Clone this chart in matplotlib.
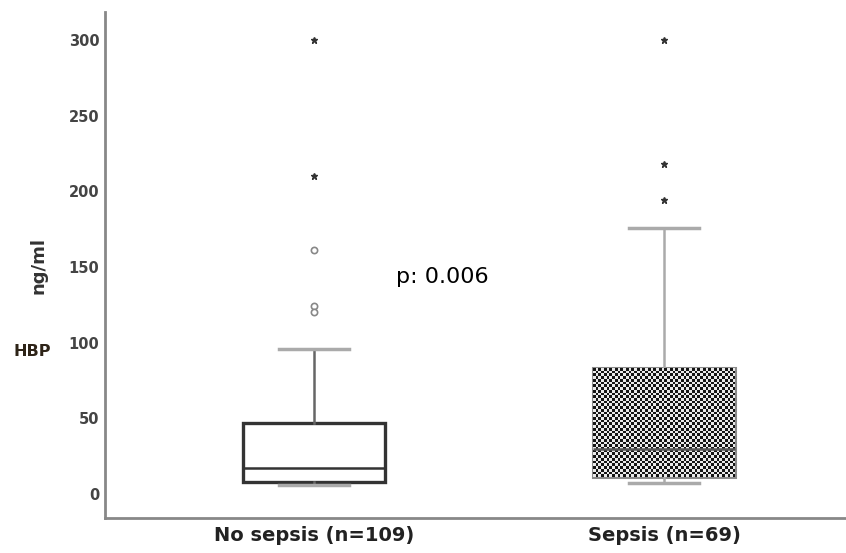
import matplotlib.pyplot as plt
import numpy as np

groups = ["No sepsis (n=109)", "Sepsis (n=69)"]
q1 = [8, 11]
med = [17, 30]
q3 = [47, 83]
whislo = [6, 7]
whishi = [96, 176]
extremes = [[300, 210], [300, 218, 194]]
outliers = [[161, 124, 120], []]
yticks = [0, 50, 100, 150, 200, 250, 300]

plt.rcParams["font.family"] = ["DejaVu Sans"]


def main():
    fig = plt.figure(figsize=(8.46, 5.53), dpi=100)
    ax = fig.add_axes([105 / 846, 35 / 553, 741 / 846, 506 / 553])

    stats = []
    for i, name in enumerate(groups):
        stats.append(dict(label=name, q1=q1[i], med=med[i], q3=q3[i],
                          whislo=whislo[i], whishi=whishi[i], fliers=[]))
    pos = [1, 2]
    w = 0.406
    bp = ax.bxp(stats, positions=pos, widths=w, patch_artist=True,
                showfliers=False, capwidths=0.2,
                boxprops=dict(linewidth=2.4, edgecolor="#333333", facecolor="white"),
                medianprops=dict(color="#333333", linewidth=1.8),
                whiskerprops=dict(color="#666666", linewidth=1.8),
                capprops=dict(color="#aaaaaa", linewidth=2.5))

    # sepsis box: checker fill clipped to the box
    box = bp["boxes"][1]
    box.set_facecolor("#333333")
    box.set_edgecolor("#8a8a8a")
    box.set_linewidth(2.2)
    ii, jj = np.indices((40, 52))
    tile = ((ii + jj) % 2).astype(float)
    img = ax.imshow(tile, cmap="gray", vmin=-0.1, vmax=1.1,
                    extent=[pos[1] - w / 2, pos[1] + w / 2, q1[1], q3[1]],
                    aspect="auto", interpolation="nearest", zorder=2.5)
    img.set_clip_path(box)
    bp["medians"][1].set_color("#555555")
    bp["medians"][1].set_zorder(3)
    bp["whiskers"][2].set_color("#aaaaaa")
    bp["whiskers"][3].set_color("#aaaaaa")

    for i, p in enumerate(pos):
        ax.plot([p] * len(extremes[i]), extremes[i], ls="none", marker="*",
                ms=4.5, color="#333333")
        if outliers[i]:
            ax.plot([p] * len(outliers[i]), outliers[i], ls="none", marker="o",
                    ms=4.5, mfc="white", mec="#888888", mew=1.2)

    ax.set_xlim(0.403, 2.52)
    ax.set_ylim(-15.9, 318.6)
    ax.set_yticks(yticks)
    ax.set_yticklabels([str(t) for t in yticks], fontsize=10.5, fontweight="bold",
                       color="#444444")
    ax.set_xticks(pos)
    ax.set_xticklabels(groups, fontsize=14, fontweight="bold", color="#222222")
    ax.tick_params(axis="y", length=0, pad=4)
    ax.tick_params(axis="x", length=0, pad=6)

    for s in ["top", "right"]:
        ax.spines[s].set_visible(False)
    for s in ["left", "bottom"]:
        ax.spines[s].set_color("#888888")
        ax.spines[s].set_linewidth(2)

    ax.text(1.233, 139.5, "p: 0.006", fontsize=16, color="black", va="baseline")
    fig.text(38 / 846, 1 - 265 / 553, "ng/ml", rotation=90, fontsize=13,
             fontweight="bold", ha="center", va="center", color="#333333")
    fig.text(13 / 846, 1 - 352 / 553, "HBP", fontsize=11.5, fontweight="bold",
             ha="left", va="center", color="#2e2418")

    fig.savefig("out.png", dpi=100)


if __name__ == "__main__":
    main()
